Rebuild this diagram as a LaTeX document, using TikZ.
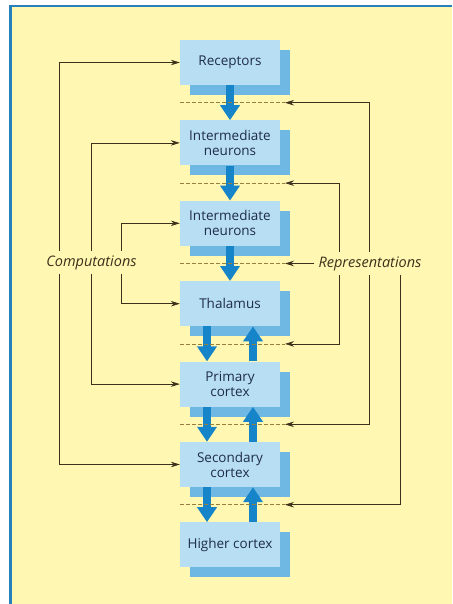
\documentclass[tikz,border=0pt]{standalone}
\usepackage{fontspec}
\setmainfont{Open Sans}
\usetikzlibrary{arrows.meta, positioning, calc, shadows}
\definecolor{bgYellow}{RGB}{255,247,178}
\definecolor{frameBlue}{RGB}{38,128,188}
\definecolor{boxBlue}{RGB}{184,222,244}
\definecolor{shadeBlue}{RGB}{112,184,228}
\definecolor{flowBlue}{RGB}{22,132,200}
\definecolor{lineBrown}{RGB}{60,50,28}
\definecolor{dashBrown}{RGB}{150,128,60}
\definecolor{textNavy}{RGB}{30,45,75}
\tikzset{
    stageBox/.style={
        rectangle,
        fill=boxBlue,
        text=textNavy,
        align=center,
        inner sep=0pt,
        minimum width=100pt,
        minimum height=45pt,
        font=\fontsize{13.5}{15}\selectfont,
        copy shadow={shadow xshift=10pt, shadow yshift=-10pt, fill=shadeBlue, draw=none}
    },
    flowArrow/.style={
        draw=flowBlue,
        line width=8pt,
        -{Triangle[length=15pt, width=19pt]}
    },
    feedLine/.style={
        draw=lineBrown,
        line width=0.7pt,
        >={Stealth[length=9pt, width=5.5pt]}
    },
    levelLine/.style={
        draw=dashBrown,
        line width=0.8pt,
        dash pattern=on 4pt off 2pt
    },
    sideLabel/.style={
        fill=bgYellow,
        text=lineBrown,
        inner sep=4pt,
        font=\fontsize{14.5}{16}\selectfont\itshape
    }
}

\begin{document}
\begin{tikzpicture}[x=1pt, y=-1pt]
            % Frame
            \useasboundingbox (0,0) rectangle (452,604);
            \fill[white] (0,0) rectangle (452,604);
            \fill[bgYellow] (10,6) rectangle (452,604);
            \draw[frameBlue, line width=2pt] (9,6) -- (452,6);
            \draw[frameBlue, line width=3pt] (10.5,5) -- (10.5,604);

            % Stages
            \node[stageBox] (rec) at (230,62.5) {Receptors};
            \node[stageBox, below=35pt of rec] (inA) {Intermediate\\neurons};
            \node[stageBox, below=35pt of inA] (inB) {Intermediate\\neurons};
            \node[stageBox, below=35pt of inB] (thal) {Thalamus};
            \node[stageBox, below=35pt of thal] (prim) {Primary\\cortex};
            \node[stageBox, below=35pt of prim] (sec) {Secondary\\cortex};
            \node[stageBox, below=35pt of sec] (high) {Higher cortex};

            % Levels between stages
            \coordinate (lv1) at ($(rec.south)!0.5!(inA.north)$);
            \coordinate (lv2) at ($(inA.south)!0.5!(inB.north)$);
            \coordinate (lv3) at ($(inB.south)!0.5!(thal.north)$);
            \coordinate (lv4) at ($(thal.south)!0.5!(prim.north)$);
            \coordinate (lv5) at ($(prim.south)!0.5!(sec.north)$);
            \coordinate (lv6) at ($(sec.south)!0.5!(high.north)$);
            \coordinate (lvR1) at ([xshift=55pt]lv1);
            \coordinate (lvR2) at ([xshift=55pt]lv2);
            \coordinate (lvR3) at ([xshift=55pt]lv3);
            \coordinate (lvR4) at ([xshift=55pt]lv4);
            \coordinate (lvR5) at ([xshift=55pt]lv5);
            \coordinate (lvR6) at ([xshift=55pt]lv6);

            % Forward flow
            \draw[flowArrow] (rec.south) -- (inA.north);
            \draw[flowArrow] (inA.south) -- (inB.north);
            \draw[flowArrow] (inB.south) -- (thal.north);
            \draw[flowArrow] ([xshift=-23pt]thal.south) -- ([xshift=-23pt]prim.north);
            \draw[flowArrow] ([xshift=-23pt]prim.south) -- ([xshift=-23pt]sec.north);
            \draw[flowArrow] ([xshift=-23pt]sec.south) -- ([xshift=-23pt]high.north);
            % Backward flow
            \draw[flowArrow] ([xshift=23pt]prim.north) -- ([xshift=23pt]thal.south);
            \draw[flowArrow] ([xshift=23pt]sec.north) -- ([xshift=23pt]prim.south);
            \draw[flowArrow] ([xshift=23pt]high.north) -- ([xshift=23pt]sec.south);

            % Dashed levels
            \draw[levelLine] (rec.west |- lv1) -- (lvR1);
            \draw[levelLine] (rec.west |- lv2) -- (lvR2);
            \draw[levelLine] (rec.west |- lv3) -- (lvR3);
            \draw[levelLine] (rec.west |- lv4) -- (lvR4);
            \draw[levelLine] (rec.west |- lv5) -- (lvR5);
            \draw[levelLine] (rec.west |- lv6) -- (lvR6);

            % Computations (left)
            \draw[feedLine, <->] (rec.west) -- ++(-120,0) |- (sec.west);
            \draw[feedLine, <->] (inA.west) -- ++(-88,0) |- (prim.west);
            \draw[feedLine, <->] (inB.west) -- ++(-58,0) |- (thal.west);

            % Representations (right)
            \draw[feedLine, <->] (lvR1) -- ++(84,0) |- (lvR5);
            \draw[feedLine, <->] (lvR2) -- ++(54,0) |- (lvR4);

            % Labels
            \node[sideLabel] (comp) at (91.5,262.5) {Computations};
            \node[sideLabel] (repr) at ([xshift=85pt]lvR3) {Representations};
            \draw[feedLine, ->] (repr.west) -- (lvR3);
            \draw[feedLine, ->] ([xshift=30pt]repr.south) |- (lvR6);
        \end{tikzpicture}
\end{document}
